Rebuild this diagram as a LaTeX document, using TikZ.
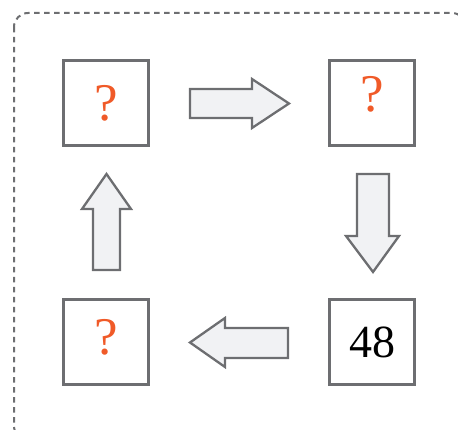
\documentclass[tikz,border=0pt]{standalone}
\usepackage{fontspec}
\setmainfont{Liberation Serif}
\definecolor{linegray}{HTML}{6D6E71}
\definecolor{qorange}{HTML}{F05A28}
\definecolor{arrowfill}{HTML}{F1F2F4}
\begin{document}
\begin{tikzpicture}[x=1pt,y=-1pt,
  cell/.style={draw=linegray,line width=3pt,minimum size=85pt,inner sep=0pt,fill=white},
  qmark/.style={text=qorange,inner sep=0pt,font=\fontsize{53}{53}\selectfont},
  num/.style={text=black,font=\fontsize{46}{46}\selectfont},
  blockarrow/.style={draw=linegray,line width=2.3pt,fill=arrowfill,line join=miter},
  frame/.style={draw=linegray,line width=2pt,dash pattern=on 5.5pt off 4.5pt,rounded corners=14pt}]
\useasboundingbox (0,0) rectangle (458,430);
\draw[frame] (14,13) rectangle (466,440);
\node[cell] (tl) at (106,103) {};
\node[cell] (tr) at (372,103) {};
\node[cell,num] (br) at (372,342) {48};
\node[cell] (bl) at (106,342) {};
\node[qmark] (tlq) at (tl.center) {?};
\node[qmark] (trq) at ([yshift=8.5pt]tr.center) {?};
\node[qmark] (blq) at ([yshift=4.5pt]bl.center) {?};
% right arrow
\draw[blockarrow] (190,89) -- (252,89) -- (252,79) -- (289,103.5) -- (252,128) -- (252,118) -- (190,118) -- cycle;
% down arrow
\draw[blockarrow] (357,174) -- (389,174) -- (389,236) -- (399,236) -- (373,272) -- (346,236) -- (357,236) -- cycle;
% left arrow
\draw[blockarrow] (288,328) -- (288,358) -- (225,358) -- (225,367) -- (190,342.5) -- (225,318) -- (225,328) -- cycle;
% up arrow
\draw[blockarrow] (93,270) -- (120,270) -- (120,209) -- (131,209) -- (106.5,174) -- (82,209) -- (93,209) -- cycle;
\end{tikzpicture}
\end{document}
